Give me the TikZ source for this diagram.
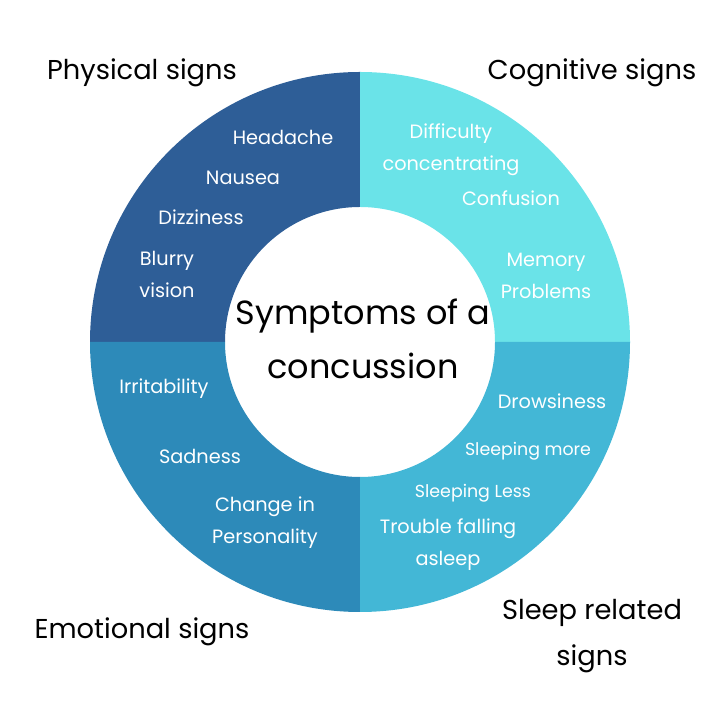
\documentclass[tikz,border=0pt]{standalone}
\usepackage{fontspec}
\setmainfont{Poppins}
\definecolor{cphys}{HTML}{2E5E97}
\definecolor{ccog}{HTML}{6AE3E8}
\definecolor{cemo}{HTML}{2D8AB9}
\definecolor{csleep}{HTML}{43B7D6}
\begin{document}
\begin{tikzpicture}[x=1pt,y=1pt,
  lab/.style={text=white,align=center,inner sep=0pt,font=\fontsize{19.3}{32}\selectfont},
  smlab/.style={lab,font=\fontsize{17.4}{30}\selectfont},
  ttl/.style={text=black,align=center,inner sep=0pt,font=\fontsize{27.3}{46}\selectfont},
  ctr/.style={text=black,align=center,inner sep=0pt,font=\fontsize{33.5}{54}\selectfont}]
\useasboundingbox (0,0) rectangle (720,720);
\coordinate (C) at (360,378);
% quadrants
\fill[cphys] (360,648) arc[start angle=90,end angle=180,radius=270] -- (225,378) arc[start angle=180,end angle=90,radius=135] -- cycle;
\fill[ccog] (630,378) arc[start angle=0,end angle=90,radius=270] -- (360,513) arc[start angle=90,end angle=0,radius=135] -- cycle;
\fill[cemo] (90,378) arc[start angle=180,end angle=270,radius=270] -- (360,243) arc[start angle=270,end angle=180,radius=135] -- cycle;
\fill[csleep] (360,108) arc[start angle=270,end angle=360,radius=270] -- (495,378) arc[start angle=0,end angle=-90,radius=135] -- cycle;
% centre
\node[ctr] (center) at (363,381) {Symptoms of a\\concussion};
% titles
\node[ttl] (tphys) at (142,647) {Physical signs};
\node[ttl] (tcog) at (592,647) {Cognitive signs};
\node[ttl] (temo) at (142,88) {Emotional signs};
\node[ttl] (tsleep) at (592,84) {Sleep related\\signs};
% physical
\node[lab] (l1) at (283,583) {Headache};
\node[lab] (l2) at (243,542) {Nausea};
\node[lab] (l3) at (201,503) {Dizziness};
\node[lab] (l4) at (167,446) {Blurry\\vision};
% cognitive
\node[lab] (l5) at (451,570) {Difficulty\\concentrating};
\node[lab] (l6) at (511,522) {Confusion};
\node[lab] (l7) at (546,444.5) {Memory\\Problems};
% emotional
\node[lab] (l8) at (164,331) {Irritability};
\node[lab] (l9) at (200,264) {Sadness};
\node[lab] (l10) at (265,197) {Change in\\Personality};
% sleep
\node[lab] (l11) at (552,319) {Drowsiness};
\node[smlab] (l12) at (528,269) {Sleeping more};
\node[smlab] (l13) at (473,227) {Sleeping Less};
\node[lab] (l14) at (448,175) {Trouble falling\\asleep};
\end{tikzpicture}
\end{document}
